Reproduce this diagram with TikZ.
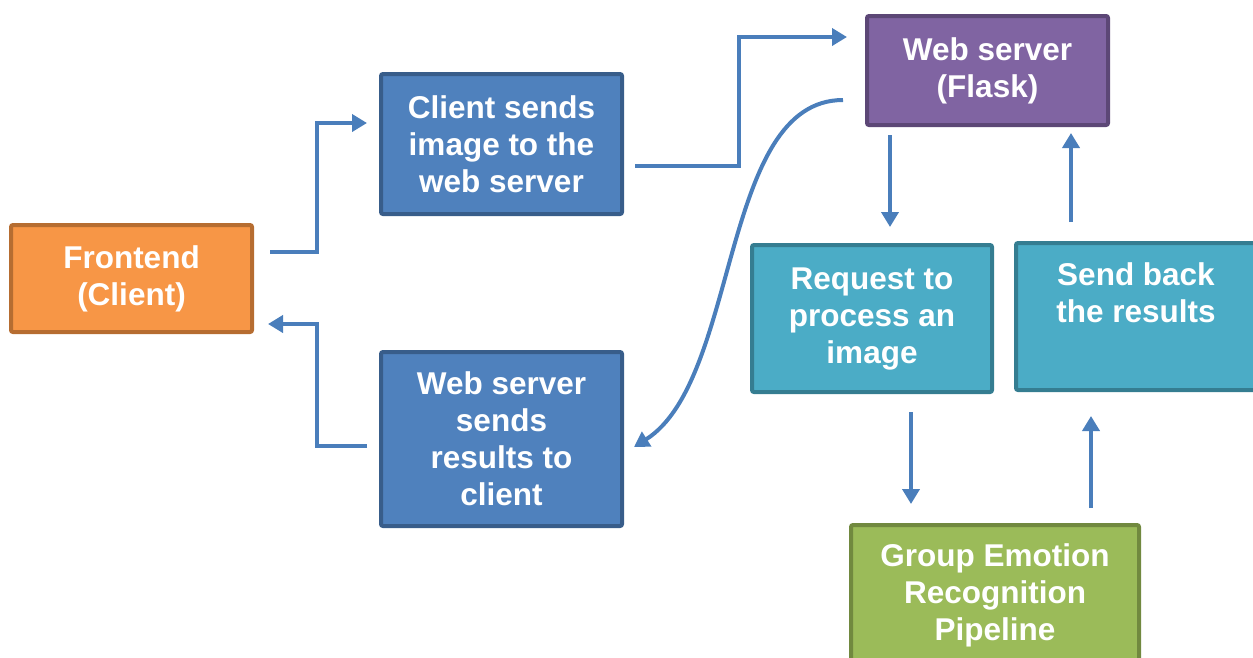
\documentclass[tikz,border=0pt]{standalone}
\usepackage{fontspec}
\setmainfont{Liberation Sans}
\usetikzlibrary{arrows.meta}
\definecolor{orfill}{HTML}{F79646}\definecolor{ordraw}{HTML}{B66D31}
\definecolor{blfill}{HTML}{4F81BD}\definecolor{bldraw}{HTML}{385D8A}
\definecolor{pufill}{HTML}{8064A2}\definecolor{pudraw}{HTML}{5C4776}
\definecolor{tefill}{HTML}{4BACC6}\definecolor{tedraw}{HTML}{357D91}
\definecolor{grfill}{HTML}{9BBB59}\definecolor{grdraw}{HTML}{71893F}
\definecolor{arr}{HTML}{4A7EBB}
\tikzset{
  box/.style={draw, line width=4pt, rounded corners=2pt, text=white, align=center,
    font=\fontsize{31.5}{37}\selectfont\bfseries, inner sep=0pt},
  conn/.style={draw=arr, line width=4pt, -{Triangle[length=15pt,width=17pt]}},
}
\begin{document}
\begin{tikzpicture}[x=1pt,y=-1pt]
\useasboundingbox (0,0) rectangle (1253,657);
\clip (0,0) rectangle (1253,657);
\node[box, fill=orfill, draw=ordraw, minimum width=241pt, minimum height=107pt] (fe) at (131.5,278.5) {Frontend\\(Client)};
\node[box, fill=blfill, draw=bldraw, minimum width=241pt, minimum height=140pt] (cs) at (501.5,144) {Client sends\\image to the\\web server};
\node[box, fill=blfill, draw=bldraw, minimum width=241pt, minimum height=174pt] (ws) at (501.5,439) {Web server\\sends\\results to\\client};
\node[box, fill=pufill, draw=pudraw, minimum width=241pt, minimum height=109pt] (fl) at (987.5,70.5) {Web server\\(Flask)};
\node[box, fill=tefill, draw=tedraw, minimum width=240pt, minimum height=147pt] (rq) at (872,318.5) {Request to\\process an\\image};
\node[box, fill=tefill, draw=tedraw, minimum width=240pt, minimum height=147pt] (sb) at (1136,316.5) {Send back\\the results\\\strut};
\node[box, fill=grfill, draw=grdraw, minimum width=288pt, minimum height=140pt] (gp) at (995,595) {Group Emotion\\Recognition\\Pipeline};

\coordinate (a1s) at (270,252); \coordinate (a1e) at (367,123);
\draw[conn] (a1s) -- (317,252) |- (a1e);
\coordinate (a2s) at (367,446); \coordinate (a2e) at (268,324);
\draw[conn] (a2s) -- (317,446) |- (a2e);
\coordinate (a3s) at (635,166); \coordinate (a3e) at (847,37);
\draw[conn] (a3s) -- (739,166) |- (a3e);
\coordinate (a4s) at (843,100); \coordinate (a4e) at (634,447);
\draw[conn] (a4s) .. controls (720,100) and (740,380) .. (a4e);
\coordinate (a5s) at (890,135); \coordinate (a5e) at (890,227);
\draw[conn] (a5s) -- (a5e);
\coordinate (a6s) at (1071,222); \coordinate (a6e) at (1071,133);
\draw[conn] (a6s) -- (a6e);
\coordinate (a7s) at (911,412); \coordinate (a7e) at (911,504);
\draw[conn] (a7s) -- (a7e);
\coordinate (a8s) at (1091,508); \coordinate (a8e) at (1091,416);
\draw[conn] (a8s) -- (a8e);
\end{tikzpicture}
\end{document}
